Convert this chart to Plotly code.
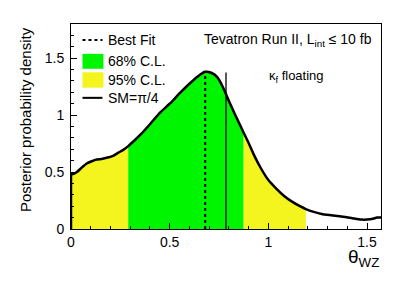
import numpy as np
import plotly.graph_objects as go

# ---- data ----
theta = [0.0, 0.015, 0.03, 0.055, 0.08, 0.105, 0.13, 0.155, 0.18, 0.21, 0.24, 0.265, 0.29,
         0.32, 0.353, 0.4, 0.45, 0.5, 0.55, 0.6, 0.65, 0.68, 0.71, 0.74, 0.77, 0.8, 0.83,
         0.875, 0.9, 0.93, 0.96, 1.0, 1.04, 1.08, 1.12, 1.16, 1.19, 1.23, 1.27, 1.32, 1.37,
         1.42, 1.47, 1.5, 1.53, 1.55, 1.5708]
density = [0.48, 0.485, 0.50, 0.54, 0.575, 0.595, 0.61, 0.615, 0.625, 0.64, 0.67, 0.695, 0.728,
           0.775, 0.83, 0.92, 1.02, 1.10, 1.19, 1.275, 1.35, 1.38, 1.372, 1.335, 1.245, 1.125, 1.01,
           0.845, 0.755, 0.64, 0.54, 0.43, 0.355, 0.29, 0.24, 0.2, 0.175, 0.15, 0.131, 0.12, 0.11,
           0.097, 0.083, 0.083, 0.09, 0.1, 0.1]
cl95_low = [0.0, 0.29]
cl68 = [0.29, 0.875]
cl95_high = [0.875, 1.19]
best_fit = 0.68
best_fit_height = 1.38
sm_value = np.pi / 4
sm_height = 1.375

x_range = [0, np.pi / 2]
y_range = [0, 1.8]
x_ticks = [0, 0.5, 1, 1.5]
x_ticklabels = ["0", "0.5", "1", "1.5"]
y_ticks = [0, 0.5, 1, 1.5]
y_ticklabels = ["0", "0.5", "1", "1.5"]

GREEN = "#00F500"
YELLOW = "#F4F41E"
FONT = "Liberation Sans, Arial, Helvetica, sans-serif"

def subset(lo, hi):
    xs, ys = [], []
    for x, y in zip(theta, density):
        if lo - 1e-9 <= x <= hi + 1e-9:
            xs.append(x)
            ys.append(y)
    return xs, ys

fig = go.Figure()
for (lo, hi), col in [(cl95_low, YELLOW), (cl68, GREEN), (cl95_high, YELLOW)]:
    xs, ys = subset(lo, hi)
    fig.add_trace(go.Scatter(x=xs, y=ys, mode="lines", fill="tozeroy", fillcolor=col,
                             line=dict(width=0, color=col, shape="spline", smoothing=0.6),
                             hoverinfo="skip", showlegend=False))

# best fit (dotted) and SM line
fig.add_trace(go.Scatter(x=[best_fit, best_fit], y=[0, best_fit_height], mode="lines",
                         line=dict(color="black", width=2, dash="dot"), showlegend=False))
fig.add_trace(go.Scatter(x=[sm_value, sm_value], y=[0, sm_height], mode="lines",
                         line=dict(color="black", width=1.3), showlegend=False))

# outline
fig.add_trace(go.Scatter(x=[theta[0], theta[0]], y=[0, density[0]], mode="lines",
                         line=dict(color="black", width=2.5), showlegend=False))
fig.add_trace(go.Scatter(x=theta, y=density, mode="lines",
                         line=dict(color="black", width=2.5, shape="spline", smoothing=0.6),
                         showlegend=False))

# page has an 8px body margin: figure drawn at screen offset (8, 8)
OFF = 8
FW, FH = 415 - OFF, 282 - OFF
# plot area in screen pixels
L, R, T, B = 70.5, 381.0, 23.5, 229.5
def px(v):
    return (v - L) / (R - L)
def py(v):
    return (B - v) / (B - T)

shapes = []
# legend
shapes.append(dict(type="line", xref="paper", yref="paper", x0=px(82), x1=px(102),
                   y0=py(39.5), y1=py(39.5), line=dict(color="black", width=2, dash="dot")))
shapes.append(dict(type="rect", xref="paper", yref="paper", x0=px(82), x1=px(103),
                   y0=py(68.5), y1=py(53.5), fillcolor=GREEN, line=dict(width=0)))
shapes.append(dict(type="rect", xref="paper", yref="paper", x0=px(82), x1=px(103),
                   y0=py(87.5), y1=py(72), fillcolor=YELLOW, line=dict(width=0)))
shapes.append(dict(type="line", xref="paper", yref="paper", x0=px(82), x1=px(102),
                   y0=py(97.7), y1=py(97.7), line=dict(color="black", width=2)))

annotations = []
for label, yy in [("Best Fit", 39.5), ("68% C.L.", 61), ("95% C.L.", 79.5), ("SM=π/4", 97.7)]:
    annotations.append(dict(text=label, xref="paper", yref="paper", x=px(106), y=py(yy),
                            xanchor="left", yanchor="middle", showarrow=False,
                            font=dict(size=14, family=FONT, color="black")))
annotations.append(dict(text="Tevatron Run II, L<sub>int</sub> ≤ 10 fb", xref="paper", yref="paper",
                        x=px(373.5), y=py(40), xanchor="right", yanchor="middle", showarrow=False,
                        font=dict(size=14, family=FONT, color="black")))
annotations.append(dict(text="κ<sub>f</sub> floating", xref="paper", yref="paper",
                        x=px(267), y=py(76), xanchor="left", yanchor="middle", showarrow=False,
                        font=dict(size=13, family=FONT, color="black")))
annotations.append(dict(text="Posterior probability density", xref="paper", yref="paper",
                        x=px(25), y=py(119.5), xanchor="center", yanchor="middle", textangle=-90,
                        showarrow=False, font=dict(size=15, family=FONT, color="black")))
annotations.append(dict(text="θ<sub>WZ</sub>", xref="paper", yref="paper",
                        x=px(381), y=py(259), xanchor="right", yanchor="middle",
                        showarrow=False, font=dict(size=19, family=FONT, color="black")))

fig.update_layout(
    width=FW, height=FH,
    margin=dict(l=L - OFF, r=FW - (R - OFF), t=T - OFF, b=FH - (B - OFF), pad=0),
    paper_bgcolor="white", plot_bgcolor="white",
    shapes=shapes, annotations=annotations,
    font=dict(family=FONT, color="black"),
    showlegend=False,
)
fig.update_xaxes(range=x_range, tickvals=x_ticks, ticktext=x_ticklabels,
                 ticks="inside", ticklen=6, tickwidth=1, tickcolor="black",
                 minor=dict(ticks="inside", ticklen=3, dtick=0.1, tick0=0, tickcolor="black", showgrid=False),
                 showline=True, linecolor="black", linewidth=1, mirror=True,
                 showgrid=False, zeroline=False,
                 tickfont=dict(size=14, family=FONT, color="black"))
fig.update_yaxes(range=y_range, tickvals=y_ticks, ticktext=y_ticklabels,
                 ticks="inside", ticklen=6, tickwidth=1, tickcolor="black",
                 minor=dict(ticks="inside", ticklen=3, dtick=0.1, tick0=0, tickcolor="black", showgrid=False),
                 showline=True, linecolor="black", linewidth=1, mirror=True,
                 showgrid=False, zeroline=False, ticklabelstandoff=3,
                 tickfont=dict(size=14, family=FONT, color="black"))

fig.write_html("out.html")
